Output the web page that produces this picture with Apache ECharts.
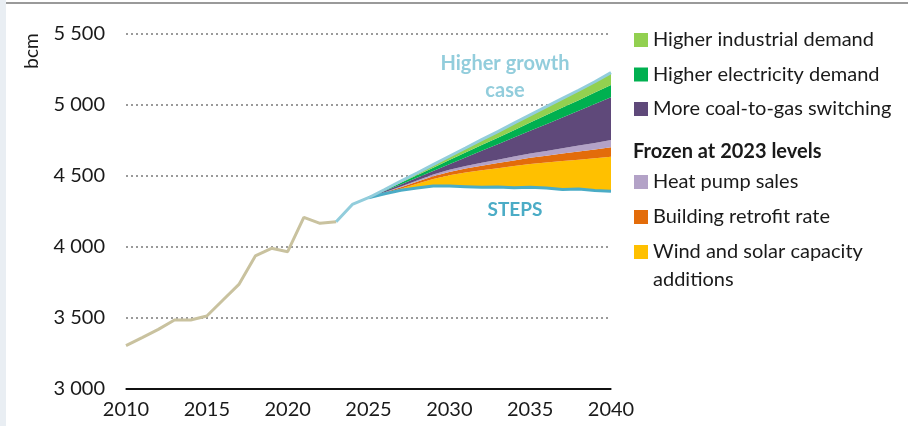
<!DOCTYPE html>
<html>
<head>
<meta charset="utf-8">
<script src="https://cdn.jsdelivr.net/npm/echarts@6/dist/echarts.min.js"></script>
<style>
  html, body { margin: 0; padding: 0; background: #fff; }
  #chart { width: 908px; height: 426px; }
</style>
</head>
<body>
<div id="chart"></div>
<script>
// categories
const years = ['2010','2011','2012','2013','2014','2015','2016','2017','2018','2019',
  '2020','2021','2022','2023','2024','2025','2026','2027','2028','2029','2030',
  '2031','2032','2033','2034','2035','2036','2037','2038','2039','2040'];
const yTicks = [3000, 3500, 4000, 4500, 5000, 5500];

// history 2010-2023
const history = [3305, 3362, 3420, 3486, 3486, 3514, 3627, 3739, 3937, 3991, 3967, 4209, 4167, 4178];
// higher growth case 2023-2040
const higherGrowth = [4178, 4300, 4347, 4405, 4464, 4521, 4580, 4639, 4697, 4756, 4813, 4872, 4930, 4988, 5047, 5104, 5164, 5228];
// STEPS 2025-2040
const steps = [4347, 4375, 4400, 4415, 4430, 4430, 4425, 4420, 4422, 4418, 4420, 4415, 4405, 4408, 4398, 4392];
// wedges 2025-2040 (bcm, stacked above STEPS)
const windSolar = [0, 3, 10, 30, 48, 75, 100, 120, 133, 152, 165, 180, 200, 207, 227, 244];
const retrofit = [0, 5, 10, 15, 20, 24, 28, 32, 36, 40, 44, 48, 53, 58, 62, 66];
const heatPump = [0, 3, 6, 9, 12, 15, 18, 21, 24, 27, 30, 33, 37, 41, 46, 52];
const coalToGas = [0, 8, 15, 19, 25, 39, 59, 84, 109, 134, 159, 189, 217, 245, 274, 300];
const electricity = [0, 6, 12, 17, 23, 29, 35, 41, 46, 52, 58, 64, 70, 75, 81, 87];
const industrial = [0, 5, 11, 16, 22, 27, 32, 38, 43, 49, 54, 59, 65, 70, 76, 81];

const pad = (arr, start) => years.map((y, i) => (i >= start && i - start < arr.length) ? arr[i - start] : '-');
const i2023 = years.indexOf('2023');
const i2025 = years.indexOf('2025');

const font = 'Lato';
const band = (name, data, color) => ({
  name: name,
  type: 'line',
  stack: 'wedge',
  data: pad(data, i2025),
  symbol: 'none',
  lineStyle: { width: 0 },
  areaStyle: { color: color, opacity: 1 },
  itemStyle: { color: color },
  z: 2
});

const legendText = { fontSize: 20, color: '#1a1a1a', fontFamily: font };

const chart = echarts.init(document.getElementById('chart'));
chart.setOption({
  animation: false,
  backgroundColor: '#fff',
  textStyle: { fontFamily: font },
  grid: { left: 126, right: 297, top: 34, bottom: 37, outerBoundsMode: 'none' },
  xAxis: {
    type: 'category',
    data: years,
    boundaryGap: false,
    axisLine: { show: true, onZero: false, lineStyle: { color: '#111', width: 1.5 } },
    axisTick: { show: false },
    axisLabel: { interval: 4, color: '#1a1a1a', fontSize: 20, margin: 11, fontFamily: font },
    splitLine: { show: false }
  },
  yAxis: {
    type: 'value',
    min: yTicks[0],
    max: yTicks[yTicks.length - 1],
    interval: 500,
    axisLine: { show: false },
    axisTick: { show: false },
    axisLabel: {
      color: '#1a1a1a', fontSize: 20, margin: 21, fontFamily: font,
      formatter: v => String(v).replace(/\B(?=(\d{3})+(?!\d))/g, ' ')
    },
    splitLine: { showMinLine: false, lineStyle: { color: '#9a9a9a', width: 2, type: [2, 3] } }
  },
  legend: [
    {
      orient: 'vertical', left: 634, top: 30, padding: 0,
      itemWidth: 14, itemHeight: 14, itemGap: 14.5,
      icon: 'rect',
      textStyle: legendText,
      data: ['Higher industrial demand', 'Higher electricity demand', 'More coal-to-gas switching']
    },
    {
      orient: 'vertical', left: 634, top: 172, padding: 0,
      itemWidth: 14, itemHeight: 14, itemGap: 15,
      icon: 'rect',
      textStyle: legendText,
      formatter: n => n === 'Wind and solar capacity additions' ? 'Wind and solar capacity' : n,
      data: ['Heat pump sales', 'Building retrofit rate', 'Wind and solar capacity additions']
    }
  ],
  graphic: [
    { type: 'rect', shape: { x: 0, y: 0, width: 6, height: 426 }, style: { fill: '#e9eef3' }, silent: true },
    { type: 'rect', shape: { x: 6, y: 2, width: 902, height: 2 }, style: { fill: '#9a9a9a' }, silent: true },
    { type: 'text', x: 32, y: 51, rotation: Math.PI / 2, style: { text: 'bcm', font: '19px ' + font, fill: '#1a1a1a', align: 'center', verticalAlign: 'middle' } },
    { type: 'text', x: 633, y: 152, style: { text: 'Frozen at 2023 levels', font: 'bold 20px ' + font, fill: '#1a1a1a', verticalAlign: 'middle' } },
    { type: 'text', x: 653, y: 280, style: { text: 'additions', font: '20px ' + font, fill: '#1a1a1a', verticalAlign: 'middle' } },
    { type: 'text', x: 505, y: 77, style: { text: 'Higher growth\ncase', font: 'bold 20px ' + font, fill: '#92cddc', align: 'center', verticalAlign: 'middle', lineHeight: 27 } },
    { type: 'text', x: 515, y: 210, style: { text: 'STEPS', font: 'bold 19px ' + font, fill: '#4bacc6', align: 'center', verticalAlign: 'middle' } }
  ],
  series: [
    {
      name: 'base', type: 'line', stack: 'wedge', data: pad(steps, i2025),
      symbol: 'none', lineStyle: { width: 0 }, silent: true, z: 1
    },
    band('Wind and solar capacity additions', windSolar, '#ffc000'),
    band('Building retrofit rate', retrofit, '#e36c0a'),
    band('Heat pump sales', heatPump, '#b3a2c7'),
    band('More coal-to-gas switching', coalToGas, '#5f497a'),
    band('Higher electricity demand', electricity, '#00b050'),
    band('Higher industrial demand', industrial, '#92d050'),
    {
      name: 'History', type: 'line', data: pad(history, 0),
      symbol: 'none', lineStyle: { color: '#c9c29f', width: 3 }, z: 5
    },
    {
      name: 'STEPS', type: 'line', data: pad(steps, i2025),
      symbol: 'none', lineStyle: { color: '#4bacc6', width: 3 }, z: 5
    },
    {
      name: 'Higher growth case', type: 'line', data: pad(higherGrowth, i2023),
      symbol: 'none', lineStyle: { color: '#92cddc', width: 3 }, z: 6
    }
  ]
});

// baseline along the x axis, placed through the chart's own scales, on its own layer
const p0 = chart.convertToPixel({ xAxisIndex: 0, yAxisIndex: 0 }, [years[0], yTicks[0]]);
const p1 = chart.convertToPixel({ xAxisIndex: 0, yAxisIndex: 0 }, [years[years.length - 1], yTicks[0]]);
chart.setOption({
  graphic: [{
    id: 'baseline', type: 'rect', zlevel: 1, z: 100, silent: true,
    shape: { x: p0[0], y: Math.round(p0[1]) - 1, width: p1[0] - p0[0], height: 2 },
    style: { fill: '#111' }
  }]
});
</script>
</body>
</html>
